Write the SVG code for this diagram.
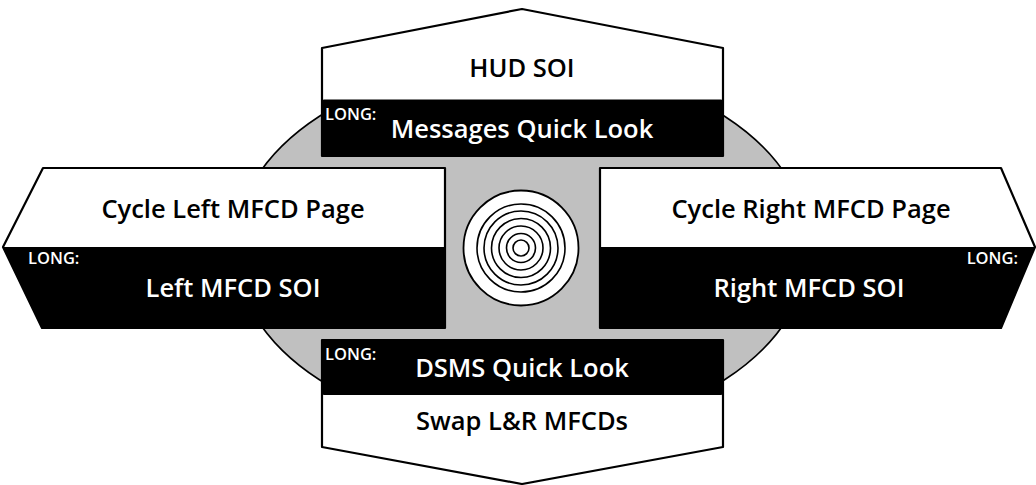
<svg xmlns="http://www.w3.org/2000/svg" width="1036" height="485" viewBox="0 0 1036 485">
<style>
.outline{fill:none;stroke:#000;stroke-width:2.2;stroke-linejoin:round}
.wfill{fill:#fff}
.band{fill:#000}
.main{font-family:"Open Sans","Noto Sans",sans-serif;font-weight:600;font-size:25.5px;text-anchor:middle}
.long{font-family:"Open Sans","Noto Sans",sans-serif;font-weight:600;font-size:16.5px}
.dark{fill:#000}
.light{fill:#fff}
.ring{fill:none;stroke:#000;stroke-width:1.6}
</style>
<rect width="1036" height="485" fill="#fff"/>
<g id="background">
<ellipse cx="522" cy="248" rx="287" ry="186" fill="#c0c0c0" stroke="#000" stroke-width="1.6"/>
</g>
<g id="center-control">
<circle cx="521" cy="248" r="57.5" fill="#fff" stroke="#000" stroke-width="1.8"/>
<circle class="ring" cx="521" cy="248" r="44"/>
<circle class="ring" cx="521" cy="248" r="37"/>
<circle class="ring" cx="521" cy="248" r="29.5"/>
<circle class="ring" cx="521" cy="248" r="22"/>
<circle class="ring" cx="521" cy="248" r="14.5"/>
<circle class="ring" cx="521" cy="248" r="8"/>
</g>
<g id="node-up">
<polygon class="wfill" points="322,48 522,9 723,48 723,156 322,156"/>
<rect class="band" x="322" y="99.5" width="401" height="56.5" rx="2"/>
<polygon class="outline" points="322,48 522,9 723,48 723,156 322,156"/>
<text class="main dark" x="522" y="77">HUD SOI</text>
<text class="long light" x="325" y="120">LONG:</text>
<text class="main light" x="522" y="138">Messages Quick Look</text>
</g>
<g id="node-left">
<polygon class="wfill" points="43,168 445,168 445,328 42,328 3,247"/>
<polygon class="band" points="3,247 445,247 445,328 42,328"/>
<polygon class="outline" points="43,168 445,168 445,328 42,328 3,247"/>
<text class="main dark" x="233" y="218">Cycle Left MFCD Page</text>
<text class="long light" x="28" y="264">LONG:</text>
<text class="main light" x="233" y="297">Left MFCD SOI</text>
</g>
<g id="node-right">
<polygon class="wfill" points="600,168 1001,168 1035,247 1001,328 600,328"/>
<polygon class="band" points="600,247 1035,247 1001,328 600,328"/>
<polygon class="outline" points="600,168 1001,168 1035,247 1001,328 600,328"/>
<text class="main dark" x="811" y="218">Cycle Right MFCD Page</text>
<text class="long light" x="1018" y="264" text-anchor="end">LONG:</text>
<text class="main light" x="809" y="297">Right MFCD SOI</text>
</g>
<g id="node-down">
<polygon class="wfill" points="322,340 723,340 723,447 522,484 322,447"/>
<rect class="band" x="322" y="340" width="401" height="55" rx="2"/>
<polygon class="outline" points="322,340 723,340 723,447 522,484 322,447"/>
<text class="long light" x="325" y="360">LONG:</text>
<text class="main light" x="522" y="377">DSMS Quick Look</text>
<text class="main dark" x="522" y="430">Swap L&amp;R MFCDs</text>
</g>
<g id="connectors"/>
</svg>
